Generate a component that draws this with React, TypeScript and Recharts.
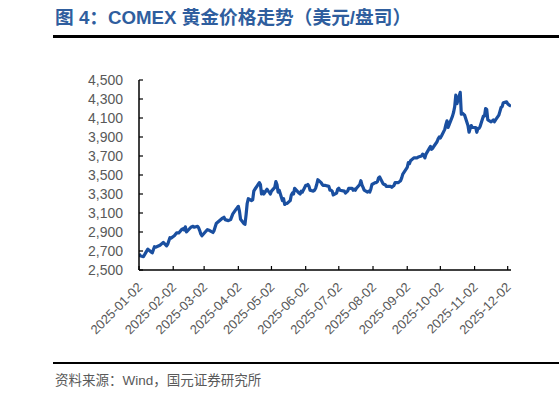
import React from "react";
import { LineChart, Line, XAxis, YAxis } from "recharts";

// COMEX gold, USD per ounce, 2025
const dates: string[] = [
  "2025-01-02", "2025-01-03", "2025-01-06", "2025-01-08", "2025-01-10", "2025-01-13", "2025-01-14", "2025-01-16",
  "2025-01-17", "2025-01-21", "2025-01-23", "2025-01-24", "2025-01-27", "2025-01-28", "2025-01-30", "2025-01-31",
  "2025-02-03", "2025-02-05", "2025-02-07", "2025-02-10", "2025-02-11", "2025-02-12", "2025-02-13", "2025-02-14",
  "2025-02-18", "2025-02-20", "2025-02-21", "2025-02-24", "2025-02-25", "2025-02-26", "2025-02-27", "2025-02-28",
  "2025-03-03", "2025-03-05", "2025-03-07", "2025-03-10", "2025-03-11", "2025-03-13", "2025-03-14", "2025-03-18",
  "2025-03-20", "2025-03-21", "2025-03-24", "2025-03-26", "2025-03-28", "2025-03-31",
  "2025-04-02", "2025-04-03", "2025-04-04", "2025-04-07", "2025-04-08", "2025-04-09", "2025-04-10", "2025-04-11",
  "2025-04-14", "2025-04-15", "2025-04-16", "2025-04-17", "2025-04-21", "2025-04-22", "2025-04-23", "2025-04-24",
  "2025-04-25", "2025-04-28", "2025-04-29", "2025-04-30",
  "2025-05-01", "2025-05-02", "2025-05-05", "2025-05-06", "2025-05-07", "2025-05-08", "2025-05-09", "2025-05-12",
  "2025-05-13", "2025-05-14", "2025-05-15", "2025-05-16", "2025-05-19", "2025-05-20", "2025-05-21", "2025-05-22",
  "2025-05-23", "2025-05-27", "2025-05-28", "2025-05-29", "2025-05-30",
  "2025-06-02", "2025-06-03", "2025-06-04", "2025-06-05", "2025-06-06", "2025-06-09", "2025-06-10", "2025-06-11",
  "2025-06-12", "2025-06-13", "2025-06-16", "2025-06-17", "2025-06-18", "2025-06-20", "2025-06-23", "2025-06-24",
  "2025-06-25", "2025-06-26", "2025-06-27", "2025-06-30",
  "2025-07-01", "2025-07-02", "2025-07-03", "2025-07-07", "2025-07-08", "2025-07-09", "2025-07-10", "2025-07-11",
  "2025-07-14", "2025-07-15", "2025-07-16", "2025-07-17", "2025-07-18", "2025-07-21", "2025-07-22", "2025-07-23",
  "2025-07-24", "2025-07-25", "2025-07-28", "2025-07-29", "2025-07-30", "2025-07-31",
  "2025-08-01", "2025-08-04", "2025-08-05", "2025-08-06", "2025-08-07", "2025-08-08", "2025-08-11", "2025-08-12",
  "2025-08-13", "2025-08-14", "2025-08-15", "2025-08-18", "2025-08-19", "2025-08-20", "2025-08-21", "2025-08-22",
  "2025-08-25", "2025-08-26", "2025-08-27", "2025-08-28", "2025-08-29",
  "2025-09-02", "2025-09-03", "2025-09-04", "2025-09-05", "2025-09-08", "2025-09-09", "2025-09-10", "2025-09-11",
  "2025-09-12", "2025-09-15", "2025-09-16", "2025-09-17", "2025-09-18", "2025-09-19", "2025-09-22", "2025-09-23",
  "2025-09-24", "2025-09-25", "2025-09-26", "2025-09-29", "2025-09-30",
  "2025-10-01", "2025-10-02", "2025-10-03", "2025-10-06", "2025-10-07", "2025-10-08", "2025-10-09", "2025-10-10",
  "2025-10-13", "2025-10-14", "2025-10-15", "2025-10-16", "2025-10-17", "2025-10-20", "2025-10-21", "2025-10-22",
  "2025-10-23", "2025-10-24", "2025-10-27", "2025-10-28", "2025-10-29", "2025-10-30", "2025-10-31",
  "2025-11-03", "2025-11-04", "2025-11-05", "2025-11-06", "2025-11-07", "2025-11-10", "2025-11-11", "2025-11-12",
  "2025-11-13", "2025-11-14", "2025-11-17", "2025-11-18", "2025-11-19", "2025-11-20", "2025-11-21", "2025-11-24",
  "2025-11-25", "2025-11-26", "2025-11-27", "2025-11-28",
  "2025-12-01", "2025-12-02", "2025-12-03", "2025-12-04", "2025-12-05",
];

const prices: number[] = [
  2670, 2650, 2640, 2680, 2720, 2690, 2680, 2745,
  2740, 2760, 2780, 2790, 2755, 2770, 2840, 2835,
  2860, 2890, 2890, 2930, 2935, 2920, 2955, 2900,
  2950, 2960, 2950, 2960, 2945, 2915, 2880, 2860,
  2900, 2925, 2915, 2895, 2915, 2990, 3000, 3040,
  3055, 3030, 3020, 3030, 3090, 3140,
  3170, 3120, 3035, 2990, 2980, 3080, 3200, 3250,
  3230, 3240, 3330, 3350, 3420, 3400, 3300, 3330,
  3300, 3350, 3330, 3320,
  3300, 3330, 3370, 3430, 3400, 3320, 3340, 3230,
  3250, 3190, 3200, 3200, 3230, 3290, 3310, 3300,
  3360, 3310, 3300, 3330, 3320,
  3390, 3390, 3400, 3380, 3340, 3330, 3340, 3360,
  3400, 3450, 3420, 3400, 3390, 3390, 3380, 3340,
  3340, 3330, 3290, 3310,
  3350, 3360, 3340, 3330, 3310, 3320, 3330, 3360,
  3360, 3340, 3350, 3340, 3360, 3400, 3440, 3395,
  3370, 3340, 3320, 3330, 3320, 3350,
  3400, 3420, 3420, 3430, 3470, 3480, 3410, 3400,
  3400, 3380, 3380, 3380, 3370, 3380, 3390, 3420,
  3420, 3430, 3440, 3470, 3510,
  3580, 3630, 3620, 3650, 3680, 3680, 3680, 3680,
  3690, 3700, 3720, 3710, 3680, 3720, 3780, 3800,
  3770, 3780, 3800, 3850, 3880,
  3900, 3890, 3910, 3980, 4030, 4070, 4000, 4030,
  4120, 4160, 4220, 4340, 4250, 4370, 4140, 4150,
  4140, 4130, 4020, 3950, 3990, 4020, 4000,
  4000, 3950, 3990, 3990, 4010, 4120, 4120, 4200,
  4190, 4080, 4060, 4070, 4080, 4060, 4080, 4130,
  4170, 4210, 4220, 4260,
  4270, 4250, 4240, 4230, 4225,
];

const xTickDates: string[] = [
  "2025-01-02", "2025-02-02", "2025-03-02", "2025-04-02", "2025-05-02", "2025-06-02",
  "2025-07-02", "2025-08-02", "2025-09-02", "2025-10-02", "2025-11-02", "2025-12-02",
];

const yTicks: number[] = [2500, 2700, 2900, 3100, 3300, 3500, 3700, 3900, 4100, 4300, 4500];

const title = "图 4：COMEX 黄金价格走势（美元/盘司）";
const source = "资料来源：Wind，国元证券研究所";

// days elapsed since the first trading date
const toDay = (s: string): number => {
  const [y, m, d] = s.split("-").map(Number);
  return (Date.UTC(y, m - 1, d) - Date.UTC(2025, 0, 2)) / 86400000;
};
const fromDay = (n: number): string => {
  const dt = new Date(Date.UTC(2025, 0, 2) + n * 86400000);
  const mm = String(dt.getUTCMonth() + 1).padStart(2, "0");
  const dd = String(dt.getUTCDate()).padStart(2, "0");
  return `${dt.getUTCFullYear()}-${mm}-${dd}`;
};

const rows = dates.map((d, i) => ({ day: toDay(d), price: prices[i] }));
const xTicks = xTickDates.map(toDay);
const xDomain: [number, number] = [toDay(dates[0]), toDay(dates[dates.length - 1])];

const AXIS_GRAY = "#595959";
const LATIN = '"Liberation Sans", Arial, sans-serif';
const CJK = '"Liberation Sans", Arial, "Noto Sans CJK SC", sans-serif';

const DateTick = (props: any) => {
  const { x, y, payload } = props;
  return (
    <g transform={`translate(${x + 4},${y + 22}) rotate(-45)`}>
      <text x={0} y={0} textAnchor="end" fill={AXIS_GRAY} fontSize={13} fontFamily={LATIN}>
        {fromDay(payload.value)}
      </text>
    </g>
  );
};

export default function App() {
  return (
    <div
      style={{
        position: "absolute",
        left: 0,
        top: 0,
        width: 559,
        height: 398,
        background: "#ffffff",
        overflow: "hidden",
      }}
    >
      <div
        style={{
          position: "absolute",
          left: 55,
          top: 6,
          fontFamily: CJK,
          fontWeight: "bold",
          fontSize: 18.7,
          color: "#2F5E9E",
          whiteSpace: "nowrap",
          lineHeight: "24px",
        }}
      >
        {title}
      </div>
      <div style={{ position: "absolute", left: 53, top: 35, width: 506, height: 3, background: "#000" }} />
      <div style={{ position: "absolute", left: 53, top: 362, width: 506, height: 2, background: "#000" }} />
      <div
        style={{
          position: "absolute",
          left: 55,
          top: 372,
          fontFamily: CJK,
          fontSize: 13.5,
          color: AXIS_GRAY,
          whiteSpace: "nowrap",
          lineHeight: "18px",
        }}
      >
        {source}
      </div>
      <div style={{ position: "absolute", left: 0, top: 0 }}>
        <LineChart width={559} height={398} data={rows} margin={{ top: 80, right: 48, bottom: 0, left: 0 }}>
          <XAxis
            dataKey="day"
            type="number"
            domain={xDomain}
            ticks={xTicks}
            interval={0}
            height={128}
            axisLine={{ stroke: "#000", strokeWidth: 1.5 }}
            tickLine={{ stroke: "#000", strokeWidth: 1.2 }}
            tickSize={-4}
            tickMargin={0}
            tick={<DateTick />}
            allowDataOverflow
          />
          <YAxis
            type="number"
            domain={[2500, 4500]}
            ticks={yTicks}
            interval={0}
            width={139}
            axisLine={{ stroke: "#000", strokeWidth: 1.5 }}
            tickLine={{ stroke: "#000", strokeWidth: 1.2 }}
            tickSize={-4}
            tickMargin={20}
            tick={{ fill: AXIS_GRAY, fontSize: 14, fontFamily: LATIN }}
            tickFormatter={(v: number) => v.toLocaleString("en-US")}
            allowDataOverflow
          />
          <Line
            dataKey="price"
            type="linear"
            stroke="#1A4FA0"
            strokeWidth={3.2}
            dot={false}
            strokeLinejoin="round"
            isAnimationActive={false}
          />
        </LineChart>
      </div>
    </div>
  );
}
